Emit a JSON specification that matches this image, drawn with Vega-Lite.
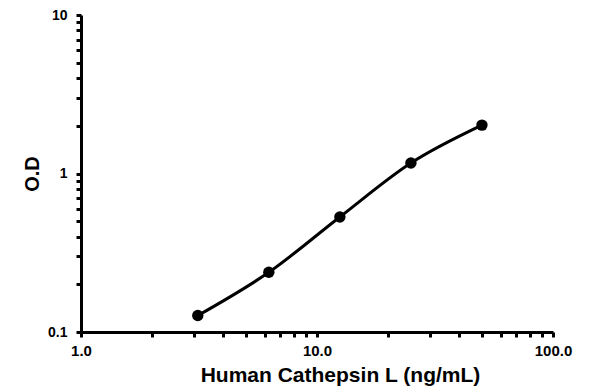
{
  "$schema": "https://vega.github.io/schema/vega-lite/v6.json",
  "width": 472,
  "height": 317,
  "autosize": {"type": "none"},
  "padding": {"left": 81, "top": 15, "right": 43, "bottom": 60},
  "background": "white",
  "config": {"view": {"stroke": null}, "font": "Liberation Sans"},
  "data": {"values": [
    {"conc": 3.125, "od": 0.127},
    {"conc": 6.25, "od": 0.238},
    {"conc": 12.5, "od": 0.532},
    {"conc": 25, "od": 1.165},
    {"conc": 50, "od": 2.02}
  ]},
  "encoding": {
    "x": {"field": "conc", "type": "quantitative",
      "scale": {"type": "log", "domain": [1, 100], "nice": false},
      "axis": {"title": "Human Cathepsin L (ng/mL)", "titleFontSize": 21, "titleFontWeight": "bold", "titleColor": "#000", "titlePadding": 6, "titleX": 259,
        "values": [1,2,3,4,5,6,7,8,9,10,20,30,40,50,60,70,80,90,100],
        "labelExpr": "indexof([1,10,100], datum.value) >= 0 ? format(datum.value, '.1f') : ''",
        "labelFlush": false,
        "labelFontSize": 15, "labelFontWeight": "bold", "labelColor": "#000", "labelPadding": 6,
        "domainColor": "#000", "domainWidth": 3, "tickColor": "#000", "tickWidth": 3, "tickSize": 5, "grid": false, "labelOverlap": false}},
    "y": {"field": "od", "type": "quantitative",
      "scale": {"type": "log", "domain": [0.1, 10], "nice": false},
      "axis": {"title": "O.D", "titleFontSize": 20, "titleFontWeight": "bold", "titleColor": "#000", "titlePadding": 5,
        "values": [0.1,0.2,0.3,0.4,0.5,0.6,0.7,0.8,0.9,1,2,3,4,5,6,7,8,9,10],
        "labelExpr": "datum.value == 0.1 ? '0.1' : datum.value == 1 ? '1' : datum.value == 10 ? '10' : ''",
        "labelFlush": false,
        "labelFontSize": 14, "labelFontWeight": "bold", "labelColor": "#000", "labelPadding": 9,
        "domainColor": "#000", "domainWidth": 3, "tickColor": "#000", "tickWidth": 3, "tickSize": 5, "grid": false, "labelOverlap": false}}
  },
  "layer": [
    {"mark": {"type": "line", "color": "#000", "strokeWidth": 3, "interpolate": "monotone"}},
    {"mark": {"type": "circle", "color": "#000", "opacity": 1, "size": 130}}
  ]
}
